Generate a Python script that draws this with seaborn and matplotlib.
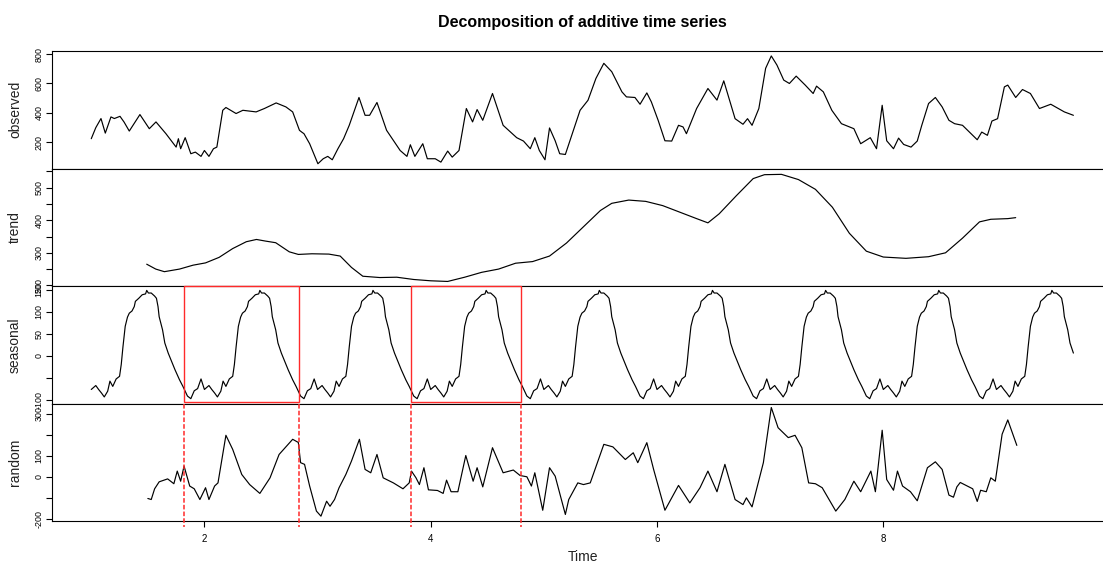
import numpy as np
import matplotlib
matplotlib.use("Agg")
import matplotlib.pyplot as plt
import matplotlib.transforms as mtransforms
from matplotlib.patches import Rectangle
import seaborn as sns

# ---------------- data ----------------
obs_time = [1.00, 1.04, 1.086, 1.124, 1.174, 1.204, 1.254, 1.29, 1.336, 1.43, 1.513, 1.572, 1.66,
            1.75, 1.77, 1.79, 1.83, 1.88, 1.92, 1.97, 2.00, 2.04, 2.08, 2.11, 2.162, 2.19, 2.28,
            2.34, 2.457, 2.53, 2.634, 2.72, 2.78, 2.84, 2.86, 2.88, 2.93, 3.003, 3.05, 3.09, 3.13,
            3.18, 3.23, 3.28, 3.366, 3.42, 3.46, 3.525, 3.61, 3.73, 3.79, 3.82, 3.86, 3.93, 3.97,
            4.04, 4.09, 4.15, 4.19, 4.25, 4.315, 4.37, 4.41, 4.46, 4.546, 4.64, 4.76, 4.82, 4.88,
            4.92, 4.96, 5.01, 5.05, 5.10, 5.14, 5.19, 5.23, 5.32, 5.39, 5.46, 5.53, 5.60, 5.69,
            5.73, 5.805, 5.85, 5.91, 5.95, 6.01, 6.07, 6.13, 6.19, 6.23, 6.26, 6.35, 6.45, 6.53,
            6.59, 6.69, 6.76, 6.80, 6.84, 6.90, 6.96, 7.01, 7.06, 7.12, 7.17, 7.23, 7.31, 7.38,
            7.41, 7.47, 7.545, 7.63, 7.74, 7.80, 7.885, 7.94, 7.99, 8.03, 8.09, 8.135, 8.18, 8.245,
            8.30, 8.34, 8.40, 8.46, 8.52, 8.58, 8.63, 8.70, 8.77, 8.83, 8.87, 8.92, 8.96, 9.01,
            9.07, 9.10, 9.17, 9.23, 9.30, 9.38, 9.48, 9.60, 9.68]
obs_value = [225, 300, 362, 263, 373, 362, 377, 338, 277, 389, 293, 339, 259,
             168, 225, 157, 232, 123, 134, 105, 145, 105, 157, 168, 418, 437, 396,
             418, 407, 430, 468, 441, 407, 282, 270, 259, 191, 55, 89, 105, 82,
             157, 225, 316, 505, 384, 384, 471, 282, 145, 105, 184, 105, 191, 89,
             89, 66, 141, 100, 145, 430, 339, 423, 350, 532, 316, 232, 209, 157,
             232, 145, 82, 298, 211, 123, 118, 211, 418, 486, 634, 737, 680, 543,
             509, 505, 459, 536, 475, 350, 211, 209, 316, 305, 259, 430, 566, 487,
             618, 361, 323, 361, 316, 430, 703, 787, 725, 623, 600, 650, 589, 532,
             582, 543, 418, 327, 293, 191, 232, 157, 452, 211, 157, 229, 186, 168,
             209, 316, 464, 505, 441, 350, 327, 316, 263, 218, 270, 248, 345, 361,
             577, 589, 505, 559, 532, 430, 459, 407, 384]

trend_time = [1.49, 1.57, 1.646, 1.78, 1.90, 2.01, 2.13, 2.25, 2.37, 2.46, 2.54, 2.63, 2.75, 2.83,
              2.95, 3.10, 3.20, 3.30, 3.40, 3.55, 3.70, 3.85, 4.00, 4.15, 4.30, 4.45, 4.60, 4.75,
              4.90, 5.05, 5.20, 5.35, 5.50, 5.60, 5.75, 5.90, 6.05, 6.20, 6.35, 6.45, 6.55, 6.70,
              6.85, 6.95, 7.10, 7.25, 7.40, 7.55, 7.70, 7.85, 8.00, 8.20, 8.40, 8.55, 8.70, 8.85,
              8.95, 9.10, 9.17]
trend_value = [265, 250, 242, 250, 262, 269, 286, 313, 334, 341, 336, 331, 303, 295,
               297, 296, 290, 255, 228, 224, 225, 218, 214, 212, 225, 240, 250, 268,
               273, 290, 330, 380, 430, 452, 462, 458, 445, 425, 405, 392, 420, 475,
               528, 540, 541, 525, 495, 440, 360, 305, 287, 283, 288, 300, 345, 395,
               403, 405, 408]

seasonal_phase = [0.000, 0.040, 0.065, 0.090, 0.115, 0.145, 0.165, 0.190, 0.220, 0.250, 0.265,
                  0.280, 0.300, 0.320, 0.336, 0.360, 0.380, 0.390, 0.420, 0.450, 0.480, 0.490,
                  0.505, 0.530, 0.560, 0.576, 0.590, 0.600, 0.630, 0.650, 0.680, 0.710, 0.740,
                  0.780, 0.810, 0.850, 0.880, 0.910, 0.940, 0.970]
seasonal_cycle = [-77, -68, -77, -85, -94, -81, -58, -70, -53, -47, -20,
                  20, 67, 88, 97, 102, 112, 124, 131, 139, 141, 149,
                  143, 143, 136, 131, 112, 89, 59, 29, 6, -13, -32,
                  -55, -70, -92, -98, -80, -75, -53]
seasonal_end = 9.69

random_time = [1.50, 1.53, 1.56, 1.60, 1.675, 1.73, 1.76, 1.79, 1.82, 1.87, 1.91, 1.96, 2.01, 2.04,
               2.09, 2.12, 2.19, 2.25, 2.33, 2.40, 2.49, 2.58, 2.66, 2.78, 2.83, 2.85, 2.885, 2.93,
               2.99, 3.03, 3.08, 3.11, 3.15, 3.19, 3.25, 3.30, 3.37, 3.42, 3.47, 3.525, 3.58, 3.67,
               3.755, 3.81, 3.83, 3.87, 3.90, 3.94, 3.98, 4.06, 4.11, 4.14, 4.18, 4.24, 4.31, 4.375,
               4.41, 4.46, 4.546, 4.64, 4.73, 4.79, 4.85, 4.89, 4.92, 4.99, 5.05, 5.10, 5.19, 5.22,
               5.30, 5.35, 5.41, 5.53, 5.61, 5.72, 5.79, 5.83, 5.91, 5.97, 6.07, 6.19, 6.29, 6.38,
               6.45, 6.53, 6.60, 6.69, 6.76, 6.79, 6.84, 6.94, 7.01, 7.07, 7.16, 7.22, 7.28, 7.34,
               7.40, 7.46, 7.58, 7.66, 7.74, 7.80, 7.89, 7.93, 7.99, 8.03, 8.09, 8.125, 8.17, 8.24,
               8.30, 8.39, 8.46, 8.52, 8.58, 8.62, 8.65, 8.68, 8.79, 8.83, 8.86, 8.91, 8.95, 8.99,
               9.05, 9.10, 9.18]
random_value = [-103, -108, -57, -24, -10, -33, 27, -21, 51, -44, -57, -108, -52, -108,
                -44, -29, 197, 130, 11, -37, -79, -5, 106, 178, 163, 67, 59, -44,
                -163, -187, -116, -140, -108, -52, 11, 75, 178, 35, 19, 106, -5, -29,
                -57, -29, 27, -5, -37, 43, -62, -65, -79, -16, -71, -71, 101, -21,
                43, -48, 138, 19, 32, 6, 0, -44, 19, -159, 43, 3, -179, -108,
                -29, -37, -29, 154, 142, 82, 114, 67, 162, 35, -159, -41, -124, -52,
                27, -71, 59, -108, -132, -100, -143, 67, 329, 233, 186, 197, 138, -29,
                -33, -52, -163, -108, -21, -71, 27, -71, 221, -13, -64, 27, -44, -71,
                -114, 43, 71, 35, -87, -97, -48, -27, -57, -117, -64, -71, -5, -21,
                202, 270, 149]

panel_names = ["observed", "trend", "seasonal", "random"]
x_ticks = [2, 4, 6, 8]
y_ticks = [[200, 400, 600, 800],
           [200, 250, 300, 350, 400, 450, 500, 550],
           [-100, -50, 0, 50, 100, 150],
           [-200, -100, 0, 100, 200, 300]]
y_tick_labels = [["200", "400", "600", "800"],
                 ["200", "", "300", "", "400", "", "500", ""],
                 ["-100", "", "0", "50", "100", "150"],
                 ["-200", "", "0", "100", "", "300"]]
y_limits = [(22.7, 820.6), (198, 559), (-109, 159), (-210, 348)]
highlight_windows = [(1.82, 2.84), (3.83, 4.80)]
title_text = "Decomposition of additive time series"

# ---------------- build seasonal series from its repeating cycle ----------------
season_t = np.concatenate([k + np.array(seasonal_phase) for k in range(1, 10)])
season_v = np.tile(np.array(seasonal_cycle, dtype=float), 9)
keep = season_t <= seasonal_end
season_t, season_v = season_t[keep], season_v[keep]

series = [(obs_time, obs_value), (trend_time, trend_value),
          (list(season_t), list(season_v)), (random_time, random_value)]

# ---------------- plotting ----------------
sns.set_theme(style="white")
plt.rcParams['font.family'] = ['Liberation Sans', 'DejaVu Sans']

W, H = 1103, 563
fig = plt.figure(figsize=(W / 100, H / 100), dpi=100)
left_px, right_px = 52, 1113
panel_tops = [51, 168.5, 286, 403.5]
panel_h = 117.5
xlim = (0.653, 10.03)

axes = []
for i, name in enumerate(panel_names):
    top = panel_tops[i]
    ax = fig.add_axes([left_px / W, (H - top - panel_h) / H, (right_px - left_px) / W, panel_h / H])
    t, v = series[i]
    sns.lineplot(x=t, y=v, ax=ax, color="black", linewidth=0.85, estimator=None,
                 sort=False, legend=False)
    ax.set_xlim(*xlim)
    ax.set_ylim(*y_limits[i])
    ax.set_yticks(y_ticks[i])
    ax.set_yticklabels(y_tick_labels[i])
    ax.tick_params(axis="y", left=True, length=4.2, width=0.8, direction="out",
                   labelsize=6.4, pad=2.0, labelrotation=90, colors="black")
    for lbl in ax.get_yticklabels():
        lbl.set_va("center")
    ax.set_ylabel(name, fontsize=10, color="#222222", va="center")
    ax.yaxis.set_label_coords(-(52 - 15) / (right_px - left_px), 0.5)
    for s in ax.spines.values():
        s.set_color("black")
        s.set_linewidth(0.8)
    if i < 3:
        ax.set_xticks([])
        ax.set_xlabel("")
    else:
        ax.set_xticks(x_ticks)
        ax.set_xticklabels([str(x) for x in x_ticks])
        ax.tick_params(axis="x", bottom=True, length=4.2, width=0.8, direction="out",
                       labelsize=7, pad=5.5, colors="black")
        ax.set_xlabel("Time", fontsize=10, color="#222222", va="center")
        ax.xaxis.set_label_coords(0.5, -(557 - 521) / panel_h)
    axes.append(ax)

# red highlight boxes on the seasonal panel and dashed guides through the random panel
ax_s, ax_r = axes[2], axes[3]
trans_s = mtransforms.blended_transform_factory(ax_s.transData, ax_s.transAxes)
trans_r = mtransforms.blended_transform_factory(ax_r.transData, ax_r.transAxes)
for x0, x1 in highlight_windows:
    rect = Rectangle((x0, 0.017), x1 - x0, 0.983, transform=trans_s, fill=False,
                     edgecolor="#ff2a2a", linewidth=1.0, clip_on=False, zorder=5)
    ax_s.add_patch(rect)
    for xv in (x0, x1):
        ax_r.plot([xv, xv], [1.0, -0.051], transform=trans_r, color="#ff2a2a",
                  linewidth=1.1, linestyle=(0, (3, 1.4)), clip_on=False, zorder=5)

fig.text(582 / W, 1 - 22 / H, title_text, ha="center", va="center",
         fontsize=11.5, fontweight="bold", color="black")

fig.savefig("out.png", dpi=100)
